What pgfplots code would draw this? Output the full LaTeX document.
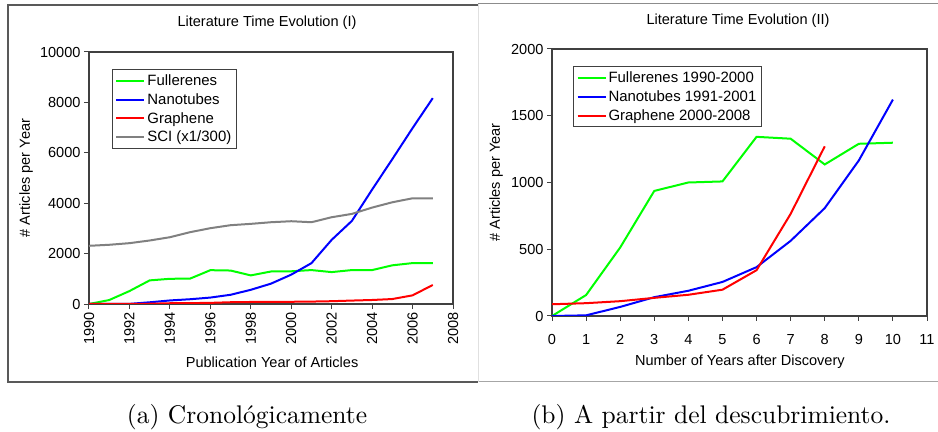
\documentclass[border=0pt]{standalone}
\usepackage{fontspec}
\usepackage{graphicx}
\usepackage{pgfplots}
\pgfplotsset{compat=1.18}
\newfontfamily\arial{Liberation Sans}
\definecolor{cgreen}{RGB}{0,255,0}
\definecolor{cblue}{RGB}{0,0,255}
\definecolor{cred}{RGB}{255,0,0}
\definecolor{cgray}{RGB}{128,128,128}
\definecolor{frame}{RGB}{64,64,64}
\pgfplotsset{
  common/.style={
    scale only axis,
    font=\arial\fontsize{14.6}{16}\selectfont,
    /pgf/number format/assume math mode=true,
    /pgf/number format/1000 sep={},
    axis line style={frame, line width=1.2bp},
    every tick/.style={frame, line width=1bp},
    tick align=outside,
    major tick length=5bp,
    tick pos=left,
    legend cell align=left,
    legend style={draw=frame, line width=1bp, fill=white, anchor=north west,
      font=\arial\fontsize{15}{16}\selectfont,
      row sep=2.5bp, inner xsep=3bp, inner ysep=3bp,
      nodes={inner sep=2bp}},
    legend image code/.code={\draw[#1] (0bp,0bp) -- (28bp,0bp);},
    every axis plot/.append style={line width=2bp},
  }
}
\begin{document}
\begin{tikzpicture}[x=1bp,y=1bp]
\path[use as bounding box] (0bp,0bp) rectangle (938bp,432bp);
% panel frames
\draw[black!65, line width=1.2bp] (478bp,427bp) -- (8bp,427bp) -- (8bp,50bp) -- (478bp,50bp);
\draw[black!45, line width=1bp] (478bp,428bp) -- (938bp,428bp);
\draw[black!35, line width=1bp] (478bp,50bp) -- (938bp,50bp);
\draw[black!12, line width=1bp] (478bp,50bp) -- (478bp,428bp);

\begin{axis}[common,
  at={(89bp,128bp)}, anchor=south west, width=364bp, height=252bp,
  xmin=1990, xmax=2008, ymin=0, ymax=10000,
  xtick={1990,1992,...,2008}, ytick={0,2000,...,10000},
  xticklabel style={rotate=90, anchor=east},
  scaled y ticks=false,
  title={Literature Time Evolution (I)},
  title style={at={(axis description cs:0.489,1.091)}, anchor=center},
  xlabel={Publication Year of Articles},
  xlabel style={at={(axis description cs:0.503,-0.230)}, anchor=center},
  ylabel={\# Articles per Year},
  ylabel style={at={(axis description cs:-0.173,0.5)}, anchor=center, rotate=0},
  legend style={at={(axis description cs:0.063,0.932)}},
]
\addplot[cgreen] coordinates {(1990,0) (1991,157) (1992,513) (1993,937) (1994,1000) (1995,1008) (1996,1342) (1997,1328) (1998,1135) (1999,1290) (2000,1298) (2001,1346) (2002,1266) (2003,1346) (2004,1346) (2005,1535) (2006,1623) (2007,1623)};
\addlegendentry{Fullerenes}
\addplot[cblue] coordinates {(1990,0) (1991,0) (1992,5) (1993,68) (1994,141) (1995,189) (1996,255) (1997,366) (1998,563) (1999,808) (2000,1165) (2001,1621) (2002,2546) (2003,3298) (2004,4540) (2005,5750) (2006,6980) (2007,8170)};
\addlegendentry{Nanotubes}
\addplot[cred] coordinates {(1990,0) (1991,0) (1992,5) (1993,10) (1994,30) (1995,35) (1996,45) (1997,70) (1998,80) (1999,85) (2000,88) (2001,96) (2002,111) (2003,136) (2004,159) (2005,197) (2006,343) (2007,755)};
\addlegendentry{Graphene}
\addplot[cgray] coordinates {(1990,2309) (1991,2350) (1992,2414) (1993,2520) (1994,2650) (1995,2850) (1996,3008) (1997,3127) (1998,3180) (1999,3245) (2000,3285) (2001,3245) (2002,3443) (2003,3575) (2004,3826) (2005,4037) (2006,4195) (2007,4195)};
\addlegendentry{SCI (x1/300)}
\end{axis}

\begin{axis}[common,
  at={(552bp,116bp)}, anchor=south west, width=375bp, height=267bp,
  xmin=0, xmax=11, ymin=0, ymax=2000,
  xtick={0,1,...,11}, ytick={0,500,...,2000},
  xticklabel style={yshift=-10bp},
  title={Literature Time Evolution (II)},
  title style={at={(axis description cs:0.496,1.082)}, anchor=center},
  xlabel={Number of Years after Discovery},
  xlabel style={at={(axis description cs:0.501,-0.172)}, anchor=center},
  ylabel={\# Articles per Year},
  ylabel style={at={(axis description cs:-0.149,0.5)}, anchor=center, rotate=0},
  legend style={at={(axis description cs:0.056,0.935)}},
]
\addplot[cgreen] coordinates {(0,0) (1,157) (2,513) (3,937) (4,1000) (5,1008) (6,1342) (7,1328) (8,1135) (9,1290) (10,1298)};
\addlegendentry{Fullerenes 1990-2000}
\addplot[cblue] coordinates {(0,0) (1,5) (2,68) (3,141) (4,189) (5,255) (6,366) (7,563) (8,808) (9,1165) (10,1621)};
\addlegendentry{Nanotubes 1991-2001}
\addplot[cred] coordinates {(0,88) (1,96) (2,111) (3,136) (4,159) (5,197) (6,343) (7,765) (8,1271)};
\addlegendentry{Graphene 2000-2008}
\end{axis}

\node[anchor=base] at (247bp,9bp) {\scalebox{2.56}{\fontsize{10}{12}\selectfont (a) Cronológicamente}};
\node[anchor=base] at (711bp,9bp) {\scalebox{2.56}{\fontsize{10}{12}\selectfont (b) A partir del descubrimiento.}};
\end{tikzpicture}
\end{document}
